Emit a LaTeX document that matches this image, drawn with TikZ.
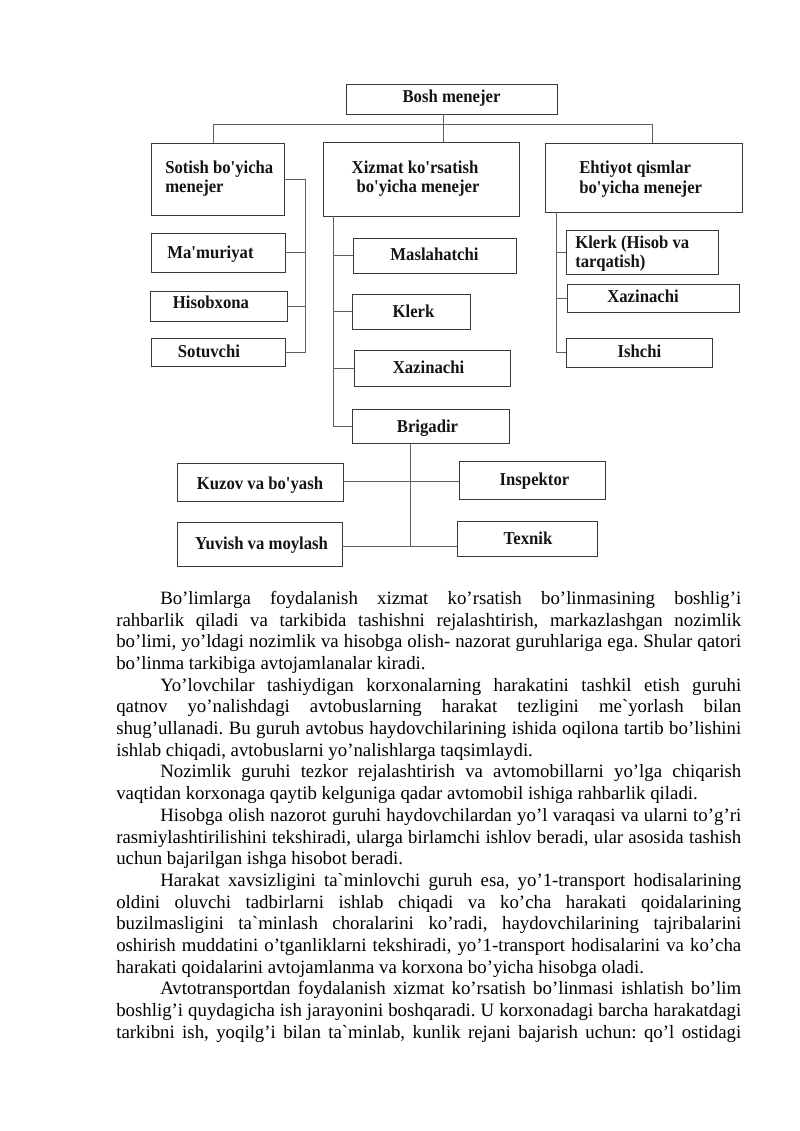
\documentclass[tikz,border=0pt]{standalone}
\usepackage{fontspec}
\newfontfamily\boxfont[FakeStretch=0.92]{Liberation Serif}
\newfontfamily\bodyfont{Liberation Serif}
\frenchspacing
\newcommand\bx[5]{\node[box,minimum width={(#4-#2)*0.74409pt},minimum height={(#5-#3)*0.74409pt}] (#1) at ({(#2+#4)/2},{(#3+#5)/2}) {};}
\newcommand\jfull[1]{\makebox[465.06pt][s]{#1}}
\newcommand\jind[1]{\makebox[432.3pt][s]{#1}}
\begin{document}
\frenchspacing
\begin{tikzpicture}[x=0.74409pt,y=-0.74409pt,
  box/.style={draw=black!78, line width=0.6pt, inner sep=0pt, fill=white},
  conn/.style={draw=black!62, line width=0.6pt},
  bt/.style={inner sep=0pt, anchor=base, font=\boxfont\bfseries\fontsize{13.5}{15}\selectfont\frenchspacing, text=black!92},
  btl/.style={bt, anchor=base west},
  bl/.style={inner sep=0pt, anchor=base west, font=\bodyfont\fontsize{14}{16.1}\selectfont\frenchspacing}]
\useasboundingbox[fill=white] (0,0) rectangle (800,1131);

% ---------- connector anchors ----------
\coordinate (hl) at (213,124);
\coordinate (hr) at (652,124);
\coordinate (tb) at (443,124);
\coordinate (lb) at (305,0);
\coordinate (mb) at (333,0);
\coordinate (rb) at (556,0);
\coordinate (bmid) at (410,481);
\coordinate (bbot) at (410,546);

% ---------- boxes ----------
\bx{bosh}{346}{84}{557}{114}
\bx{sot}{151}{143}{284}{215}
\bx{xiz}{323}{142}{519}{216}
\bx{ehti}{545}{143}{742}{212}
\bx{mam}{151}{233}{285}{272}
\bx{his}{150}{291}{287}{321}
\bx{sotv}{151}{338}{285}{366}
\bx{mas}{353}{238}{516}{273}
\bx{kle}{352}{294}{470}{329}
\bx{xaz}{354}{350}{510}{386}
\bx{brig}{352}{409}{509}{443}
\bx{klh}{566}{230}{718}{274}
\bx{xazr}{567}{284}{739}{312}
\bx{ish}{566}{338}{712}{367}
\bx{kuz}{177}{463}{343}{501}
\bx{insp}{459}{461}{605}{499}
\bx{yuv}{177}{522}{342}{566}
\bx{tex}{457}{521}{597}{556}

\draw[conn] (bosh.south -| tb) -- (xiz.north -| tb);
\draw[conn] (sot.north -| hl) -- (hl) -- (hr) -- (ehti.north -| hr);

\draw[conn] (sot.east) -- (sot.east -| lb) -- (sotv.east -| lb) -- (sotv.east);
\draw[conn] (mam.east) -- (mam.east -| lb);
\draw[conn] (his.east) -- (his.east -| lb);

\draw[conn] (xiz.south -| mb) -- (brig.west -| mb) -- (brig.west);
\draw[conn] (mas.west) -- (mas.west -| mb);
\draw[conn] (kle.west) -- (kle.west -| mb);
\draw[conn] (xaz.west) -- (xaz.west -| mb);

\draw[conn] (ehti.south -| rb) -- (ish.west -| rb) -- (ish.west);
\draw[conn] (klh.west) -- (klh.west -| rb);
\draw[conn] (xazr.west) -- (xazr.west -| rb);

\draw[conn] (brig.south -| bbot) -- (bbot);
\draw[conn] (kuz.east |- bmid) -- (insp.west |- bmid);
\draw[conn] (yuv.east |- bbot) -- (tex.west |- bbot);

% ---------- box texts ----------
\node[bt] (tbosh) at (451.5,102) {Bosh menejer};
\node[btl] (tsot1) at (165,173) {Sotish bo'yicha};
\node[btl] (tsot2) at (165,192) {menejer};
\node[bt] (txiz1) at (415,173) {Xizmat ko'rsatish};
\node[bt] (txiz2) at (418,192) {bo'yicha menejer};
\node[btl] (tehti1) at (579,173) {Ehtiyot qismlar};
\node[btl] (tehti2) at (579,193) {bo'yicha menejer};
\node[bt] (tmam) at (210.5,258) {Ma'muriyat};
\node[bt] (this) at (211,308) {Hisobxona};
\node[bt] (tsotv) at (209,357) {Sotuvchi};
\node[bt] (tmas) at (434.5,260) {Maslahatchi};
\node[bt] (tkle) at (413.5,317) {Klerk};
\node[bt] (txaz) at (428.5,373) {Xazinachi};
\node[bt] (tbrig) at (427.5,432) {Brigadir};
\node[btl] (tklh1) at (575,248) {Klerk (Hisob va};
\node[btl] (tklh2) at (575,267) {tarqatish)};
\node[bt] (txazr) at (643,302) {Xazinachi};
\node[bt] (tish) at (639.5,357) {Ishchi};
\node[bt] (tkuz) at (260,489) {Kuzov va bo'yash};
\node[bt] (tinsp) at (534.5,485) {Inspektor};
\node[bt] (tyuv) at (261.5,549) {Yuvish va moylash};
\node[bt] (ttex) at (528,544) {Texnik};

% ---------- body text ----------
\node[bl] (l01) at (160,604.5) {\jind{Bo’limlarga foydalanish xizmat ko’rsatish bo’linmasining boshlig’i}};
\node[bl] (l02) at (116,626.2) {\jfull{rahbarlik qiladi va tarkibida tashishni rejalashtirish, markazlashgan nozimlik}};
\node[bl] (l03) at (116,647.9) {\jfull{bo’limi, yo’ldagi nozimlik va hisobga olish- nazorat guruhlariga ega. Shular qatori}};
\node[bl] (l04) at (116,669.5) {bo’linma tarkibiga avtojamlanalar kiradi.};
\node[bl] (l05) at (160,691.2) {\jind{Yo’lovchilar tashiydigan korxonalarning harakatini tashkil etish guruhi}};
\node[bl] (l06) at (116,712.9) {\jfull{qatnov yo’nalishdagi avtobuslarning harakat tezligini me`yorlash bilan}};
\node[bl] (l07) at (116,734.6) {\jfull{shug’ullanadi. Bu guruh avtobus haydovchilarining ishida oqilona tartib bo’lishini}};
\node[bl] (l08) at (116,756.3) {ishlab chiqadi, avtobuslarni yo’nalishlarga taqsimlaydi.};
\node[bl] (l09) at (160,777.9) {\jind{Nozimlik guruhi tezkor rejalashtirish va avtomobillarni yo’lga chiqarish}};
\node[bl] (l10) at (116,799.6) {vaqtidan korxonaga qaytib kelguniga qadar avtomobil ishiga rahbarlik qiladi.};
\node[bl] (l11) at (160,821.3) {\jind{Hisobga olish nazorot guruhi haydovchilardan yo’l varaqasi va ularni to’g’ri}};
\node[bl] (l12) at (116,843.0) {\jfull{rasmiylashtirilishini tekshiradi, ularga birlamchi ishlov beradi, ular asosida tashish}};
\node[bl] (l13) at (116,864.7) {uchun bajarilgan ishga hisobot beradi.};
\node[bl] (l14) at (160,886.3) {\jind{Harakat xavsizligini ta`minlovchi guruh esa, yo’1-transport hodisalarining}};
\node[bl] (l15) at (116,908.0) {\jfull{oldini oluvchi tadbirlarni ishlab chiqadi va ko’cha harakati qoidalarining}};
\node[bl] (l16) at (116,929.7) {\jfull{buzilmasligini ta`minlash choralarini ko’radi, haydovchilarining tajribalarini}};
\node[bl] (l17) at (116,951.4) {\jfull{oshirish muddatini o’tganliklarni tekshiradi, yo’1-transport hodisalarini va ko’cha}};
\node[bl] (l18) at (116,973.1) {harakati qoidalarini avtojamlanma va korxona bo’yicha hisobga oladi.};
\node[bl] (l19) at (160,994.7) {\jind{Avtotransportdan foydalanish xizmat ko’rsatish bo’linmasi ishlatish bo’lim}};
\node[bl] (l20) at (116,1016.4) {\jfull{boshlig’i quydagicha ish jarayonini boshqaradi. U korxonadagi barcha harakatdagi}};
\node[bl] (l21) at (116,1038.1) {\jfull{tarkibni ish, yoqilg’i bilan ta`minlab, kunlik rejani bajarish uchun: qo’l ostidagi}};
\end{tikzpicture}
\end{document}
